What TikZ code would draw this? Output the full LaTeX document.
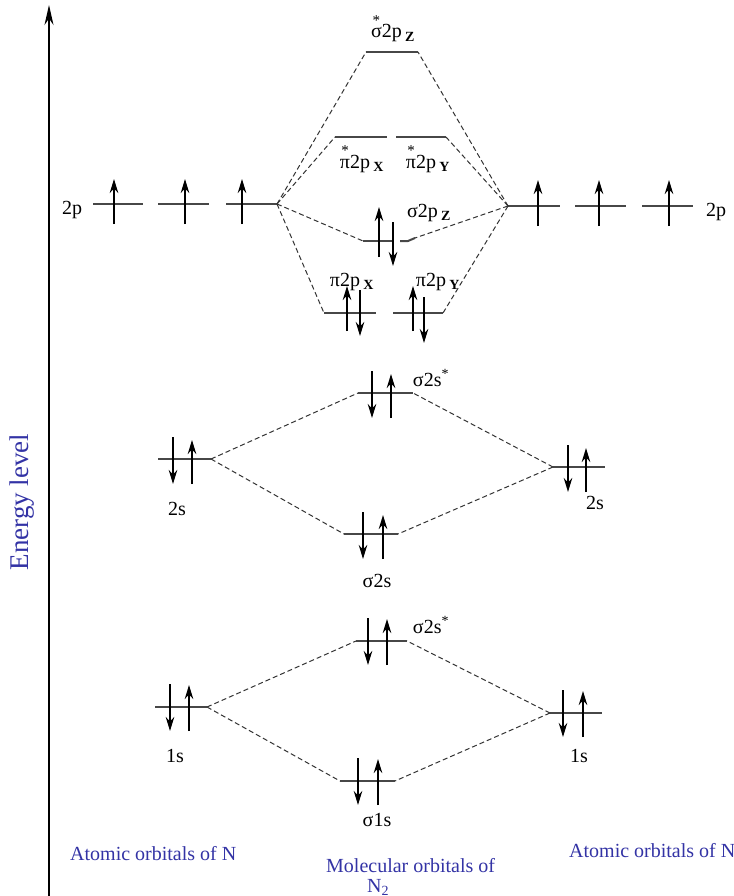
\documentclass[tikz,border=0pt]{standalone}
\usepackage{fontspec}
\setmainfont{Liberation Serif}
\usetikzlibrary{arrows.meta}
\definecolor{labelblue}{RGB}{51,51,165}
\newsavebox\starbox
\newcommand{\starred}[1]{\sbox\starbox{#1}\rlap{\makebox[\wd\starbox]{\raisebox{0.62em}{\fontsize{15}{15}\selectfont *}}}\usebox\starbox}
\newcommand{\orbsub}[1]{\,\textsubscript{\textbf{#1}}}
\tikzset{
  level/.style={line width=2pt,draw=black!72},
  link/.style={line width=1pt,draw=black!80,dash pattern=on 5pt off 3pt},
  spin/.style={line width=1.9pt,-{Stealth[length=14pt,width=8.5pt]}},
  orb/.style={font=\fontsize{20}{22}\selectfont,inner sep=0pt,anchor=base},
  caption/.style={font=\fontsize{20}{22}\selectfont,text=labelblue,inner sep=0pt},
}
\begin{document}
\begin{tikzpicture}[x=1pt,y=-1pt]
  \useasboundingbox (0,0) rectangle (733,896);

  % Energy axis.
  \coordinate (axbot) at (49,896);
  \coordinate (axtop) at (49,5);
  \draw[line width=1.8pt,-{Stealth[length=20pt,width=9pt]}] (axbot)--(axtop);
  \node[caption,rotate=90,font=\fontsize{27}{29}\selectfont] (elabel) at (22,502) {Energy level};

  % 2p levels of the left atom.
  \foreach \xa/\xb/\xe [count=\i] in {93/143/114,158/209/185,226/277/242} {
    \coordinate (lp\i a) at (\xa,204);
    \coordinate (lp\i b) at (\xb,204);
    \draw[level] (lp\i a)--(lp\i b);
    \draw[spin] (\xe,224)--(\xe,179);
  }
  \node[orb] (l2p) at (72,214) {2p};

  % 2p levels of the right atom.
  \foreach \xa/\xb/\xe [count=\i] in {508/560/538,575/626/599,642/693/669} {
    \coordinate (rp\i a) at (\xa,206);
    \coordinate (rp\i b) at (\xb,206);
    \draw[level] (rp\i a)--(rp\i b);
    \draw[spin] (\xe,226)--(\xe,180);
  }
  \node[orb] (r2p) at (716,216) {2p};

  % Molecular orbitals from 2p.
  \coordinate (sigzstarL) at (366,52);  \coordinate (sigzstarR) at (418,52);
  \coordinate (pixstarL) at (335,137);  \coordinate (pixstarR) at (387,137);
  \coordinate (piystarL) at (396,137);  \coordinate (piystarR) at (446,137);
  \coordinate (sigzL) at (363,241);     \coordinate (sigzR) at (415,238);
  \coordinate (pixL) at (324,313);      \coordinate (pixR) at (376,313);
  \coordinate (piyL) at (393,313);      \coordinate (piyR) at (443,313);
  \foreach \a/\b in {sigzstarL/sigzstarR,pixstarL/pixstarR,piystarL/piystarR,
                     pixL/pixR,piyL/piyR}
    \draw[level] (\a)--(\b);
  \draw[level] (sigzL)--(393,241);
  \draw[level] (400,241)--(408,241)--(sigzR);
  \draw[spin] (379,257)--(379,207);
  \draw[spin] (393,222)--(393,266);
  \draw[spin] (347,331)--(347,286);
  \draw[spin] (360,290)--(360,336);
  \draw[spin] (413,331)--(413,286);
  \draw[spin] (424,297)--(424,343);
  \node[orb] (lsigzstar) at (393,38) {\starred{σ}2p\orbsub{Z}};
  \node[orb] (lpixstar) at (362,168) {\starred{π}2p\orbsub{X}};
  \node[orb] (lpiystar) at (428,168) {\starred{π}2p\orbsub{Y}};
  \node[orb] (lsigz) at (429,217) {σ2p\orbsub{Z}};
  \node[orb] (lpix) at (352,286) {π2p\orbsub{X}};
  \node[orb] (lpiy) at (438,286) {π2p\orbsub{Y}};
  \foreach \m in {sigzstarL,pixstarL,sigzL,pixL}
    \draw[link] (lp3b)--(\m);
  \foreach \m in {sigzstarR,piystarR,sigzR,piyR}
    \draw[link] (rp1a)--(\m);

  % 2s levels.
  \coordinate (l2sA) at (158,459);  \coordinate (l2sB) at (211,459);
  \coordinate (r2sA) at (553,467);  \coordinate (r2sB) at (605,467);
  \coordinate (s2sstarL) at (358,393);  \coordinate (s2sstarR) at (413,393);
  \coordinate (s2sL) at (344,534);  \coordinate (s2sR) at (398,534);
  \foreach \a/\b in {l2sA/l2sB,r2sA/r2sB,s2sstarL/s2sstarR,s2sL/s2sR}
    \draw[level] (\a)--(\b);
  \foreach \xd/\xu/\y in {173/192/459,568/586/467,372/391/393,363/383/534} {
    \draw[spin] (\xd,\y-22)--(\xd,\y+25);
    \draw[spin] (\xu,\y+25)--(\xu,\y-19);
  }
  \node[orb] (l2s) at (177,515) {2s};
  \node[orb] (r2s) at (595,509) {2s};
  \node[orb] (ls2sstar) at (431,386) {σ2s\textsuperscript{*}};
  \node[orb] (ls2s) at (377,587) {σ2s};
  \draw[link] (l2sB)--(s2sstarL);
  \draw[link] (l2sB)--(s2sL);
  \draw[link] (r2sA)--(s2sstarR);
  \draw[link] (r2sA)--(s2sR);

  % 1s levels.
  \coordinate (l1sA) at (155,707);  \coordinate (l1sB) at (207,707);
  \coordinate (r1sA) at (550,713);  \coordinate (r1sB) at (602,713);
  \coordinate (s1sstarL) at (356,641);  \coordinate (s1sstarR) at (407,641);
  \coordinate (s1sL) at (340,781);  \coordinate (s1sR) at (395,781);
  \foreach \a/\b in {l1sA/l1sB,r1sA/r1sB,s1sstarL/s1sstarR,s1sL/s1sR}
    \draw[level] (\a)--(\b);
  \foreach \xd/\xu/\y in {170/189/707,563/583/713,368/387/641,358/378/781} {
    \draw[spin] (\xd,\y-23)--(\xd,\y+24);
    \draw[spin] (\xu,\y+24)--(\xu,\y-22);
  }
  \node[orb] (l1s) at (175,762) {1s};
  \node[orb] (r1s) at (579,762) {1s};
  \node[orb] (ls1sstar) at (431,633) {σ2s\textsuperscript{*}};
  \node[orb] (ls1s) at (377,826) {σ1s};
  \draw[link] (l1sB)--(s1sstarL);
  \draw[link] (l1sB)--(s1sL);
  \draw[link] (r1sA)--(s1sstarR);
  \draw[link] (r1sA)--(s1sR);

  % Captions.
  \node[caption,anchor=base west] (capl) at (70,860) {Atomic orbitals of N};
  \node[caption,anchor=base west] (capm) at (326,872) {Molecular orbitals of};
  \node[caption,anchor=base west] (capn) at (367,892) {N\textsubscript{2}};
  \node[caption,anchor=base west] (capr) at (569,857) {Atomic orbitals of N};
\end{tikzpicture}
\end{document}
